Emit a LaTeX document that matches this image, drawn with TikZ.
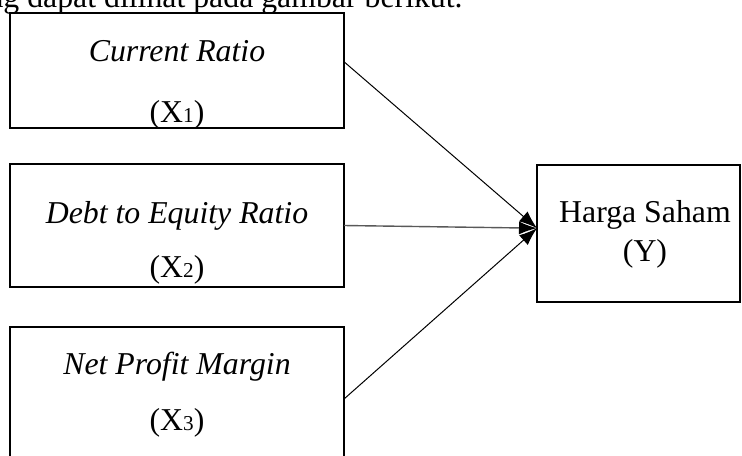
\documentclass[tikz,border=0pt]{standalone}
\usepackage{fontspec}
\setmainfont{Liberation Serif}
\usepackage{tikz}
\usetikzlibrary{positioning}
\usetikzlibrary{arrows.meta}

\newcommand{\sub}[1]{{\fontsize{10.6}{12}\selectfont #1}}

\begin{document}
\begin{tikzpicture}[x=0.5pt,y=-0.5pt,
    font=\fontsize{15.9}{19}\selectfont,
    >={Latex[length=9pt,width=6.5pt,color=black]},
    box/.style={draw,line width=1pt,minimum width=167pt,inner sep=0pt,outer sep=0pt},
    txt/.style={anchor=base,inner sep=0pt}]
   \useasboundingbox (0,0) rectangle (742,455);
   \clip (0,0) rectangle (742,455);
   \node[anchor=base east,inner sep=0pt] (intro) at (463,7) {ng dapat dilihat pada gambar berikut.};
   % variabel bebas
   \node[box,minimum height=57.5pt] (cr) at (177,70.5) {};
   \node[box,minimum height=61.5pt,below=18pt of cr] (der) {};
   \node[box,minimum height=72pt,below=20pt of der] (npm) {};
   % variabel terikat
   \node[box,minimum width=101.5pt,minimum height=68.5pt] (hy) at (638.5,233.5) {};
   \node[txt] (crt) at (177,61) {\itshape Current Ratio};
   \node[txt] (crx) at (177,122) {(X\sub{1})};
   \node[txt] (dert) at (177,223) {\itshape Debt to Equity Ratio};
   \node[txt] (derx) at (177,277) {(X\sub{2})};
   \node[txt] (npmt) at (177,374) {\itshape Net Profit Margin};
   \node[txt] (npmx) at (177,430) {(X\sub{3})};
   \node[txt] (hyt) at (645,222) {Harga Saham};
   \node[txt] (hyx) at (645,261) {(Y)};
   \draw[->,line width=0.5pt] (cr.3) -- (hy.177);
   \draw[->,line width=0.7pt,draw=black!65] (der.east) -- (hy.177);
   \draw[->,line width=0.5pt] (npm.east) -- (hy.177);
 \end{tikzpicture}
\end{document}
